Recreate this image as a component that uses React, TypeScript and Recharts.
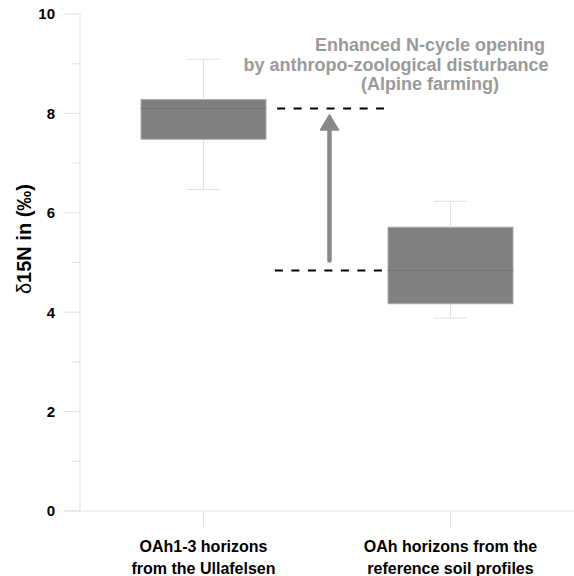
import { ComposedChart, Bar, XAxis, YAxis, ReferenceLine, Customized } from 'recharts';

const categories = ['OAh1-3 horizons|from the Ullafelsen', 'OAh horizons from the|reference soil profiles'];
const whiskerLow = [6.47, 3.88];
const quartile1 = [7.48, 4.17];
const median = [8.1, 4.84];
const quartile3 = [8.28, 5.71];
const whiskerHigh = [9.09, 6.23];

const yTicks = [0, 1, 2, 3, 4, 5, 6, 7, 8, 9, 10];
const noteLines = ['Enhanced N-cycle opening', 'by anthropo-zoological disturbance', '(Alpine farming)'];

// arrow from the reference median up to the Ullafelsen median
const arrowFrom = 5.04;
const arrowTo = 7.97;

// numeric x positions: category i sits at i + 0.5 on a [0, 2] axis
const rows = categories.map((name, i) => ({
  pos: i + 0.5,
  name,
  base: whiskerLow[i],
  lowWhisker: quartile1[i] - whiskerLow[i],
  lowBox: median[i] - quartile1[i],
  highBox: quartile3[i] - median[i],
  highWhisker: whiskerHigh[i] - quartile3[i],
}));

const FONT = 'Arial, "Liberation Sans", sans-serif';
const LIGHT = '#e0e0e0';
const BOX = '#808080';

const Whisker = (capAtTop: boolean) => (props: any) => {
  const { x, y, width, height } = props;
  const cx = x + width / 2;
  const capY = capAtTop ? y : y + height;
  return (
    <g>
      <line x1={cx} y1={y} x2={cx} y2={y + height} stroke={LIGHT} strokeWidth={1} />
      <line x1={cx - 16.5} y1={capY} x2={cx + 16.5} y2={capY} stroke={LIGHT} strokeWidth={1} />
    </g>
  );
};

const BoxPart = (withMedian: boolean) => (props: any) => {
  const { x, y, width, height } = props;
  return (
    <g>
      <rect x={x} y={y} width={width} height={height} fill={BOX} stroke="#ababab" strokeWidth={1} />
      {withMedian && (
        <line x1={x} y1={y + height} x2={x + width} y2={y + height} stroke="#707070" strokeWidth={1} />
      )}
    </g>
  );
};

const YTick = (props: any) => {
  const { x, y, payload } = props;
  const axisX = x + 25;
  const major = payload.value % 2 === 0;
  return (
    <g>
      <line x1={axisX - (major ? 16 : 8)} y1={y} x2={axisX} y2={y} stroke={LIGHT} />
      {major && (
        <text x={x} y={y} dy="0.36em" textAnchor="end" fontFamily={FONT} fontWeight="bold" fontSize={15} fill="#000">
          {payload.value}
        </text>
      )}
    </g>
  );
};

const XTick = (props: any) => {
  const { x, y, payload } = props;
  const label = categories[Math.floor(payload.value)] ?? '';
  const parts = label.split('|');
  return (
    <text x={x} y={y} textAnchor="middle" fontFamily={FONT} fontWeight="bold" fontSize={16} fill="#000">
      <tspan x={x} dy={25}>{parts[0]}</tspan>
      <tspan x={x} dy={22}>{parts[1]}</tspan>
    </text>
  );
};

const Arrow = (props: any) => {
  const { x1, y1, y2 } = props;
  const bottom = Math.max(y1, y2);
  const tip = Math.min(y1, y2);
  const cx = x1;
  return (
    <g>
      <line x1={cx} y1={bottom} x2={cx} y2={tip + 12} stroke="#888888" strokeWidth={4.5} strokeLinecap="round" />
      <polygon
        points={`${cx},${tip} ${cx - 9},${tip + 15} ${cx + 9},${tip + 15}`}
        fill="#888888"
        stroke="#888888"
        strokeLinejoin="round"
        strokeWidth={1.5}
      />
    </g>
  );
};

const Extras = () => (
  <g>
    <line x1={64} y1={511} x2={80} y2={511} stroke={LIGHT} />
    <text x={31} y={239} transform="rotate(-90, 31, 239)" textAnchor="middle" fontFamily={FONT} fontSize={20} fill="#000">
      <tspan fontWeight="normal">δ</tspan>
      <tspan fontWeight="bold">15N in (‰)</tspan>
    </text>
    <text fontFamily={FONT} fontWeight="bold" fontSize={18} fill="#9a9a9a" textAnchor="middle">
      <tspan x={430} y={51}>{noteLines[0]}</tspan>
      <tspan x={396} y={71}>{noteLines[1]}</tspan>
      <tspan x={430} y={90}>{noteLines[2]}</tspan>
    </text>
  </g>
);

export default function App() {
  return (
    <div style={{ position: 'absolute', left: 0, top: 0, background: '#fff' }}>
      <ComposedChart width={574} height={576} data={rows} margin={{ top: 14, right: 0, left: 0, bottom: 0 }}>
        <XAxis
          dataKey="pos"
          type="number"
          domain={[0, 2]}
          ticks={[0.5, 1.5]}
          height={65}
          stroke={LIGHT}
          tickLine={{ stroke: LIGHT }}
          tickSize={16}
          tickMargin={0}
          tick={<XTick />}
          interval={0}
        />
        <YAxis
          domain={[0, 10]}
          ticks={yTicks}
          interval={0}
          width={80}
          stroke={LIGHT}
          tickLine={false}
          tickSize={16}
          tickMargin={9}
          tick={<YTick />}
        />
        <Bar dataKey="base" stackId="b" fill="none" barSize={125} isAnimationActive={false} />
        <Bar dataKey="lowWhisker" stackId="b" shape={Whisker(false)} barSize={125} isAnimationActive={false} />
        <Bar dataKey="lowBox" stackId="b" shape={BoxPart(false)} barSize={125} isAnimationActive={false} />
        <Bar dataKey="highBox" stackId="b" shape={BoxPart(true)} barSize={125} isAnimationActive={false} />
        <Bar dataKey="highWhisker" stackId="b" shape={Whisker(true)} barSize={125} isAnimationActive={false} />
        <ReferenceLine
          segment={[{ x: 0.798, y: median[0] }, { x: 1.231, y: median[0] }]}
          stroke="#000"
          strokeWidth={2}
          strokeDasharray="8 8.5"
          ifOverflow="visible"
        />
        <ReferenceLine
          segment={[{ x: 0.789, y: median[1] }, { x: 1.223, y: median[1] }]}
          stroke="#000"
          strokeWidth={2}
          strokeDasharray="8 8.5"
          ifOverflow="visible"
        />
        <ReferenceLine
          segment={[{ x: 1.01, y: arrowFrom }, { x: 1.01, y: arrowTo }]}
          shape={<Arrow />}
          ifOverflow="visible"
        />
        <Customized component={Extras} />
      </ComposedChart>
    </div>
  );
}
